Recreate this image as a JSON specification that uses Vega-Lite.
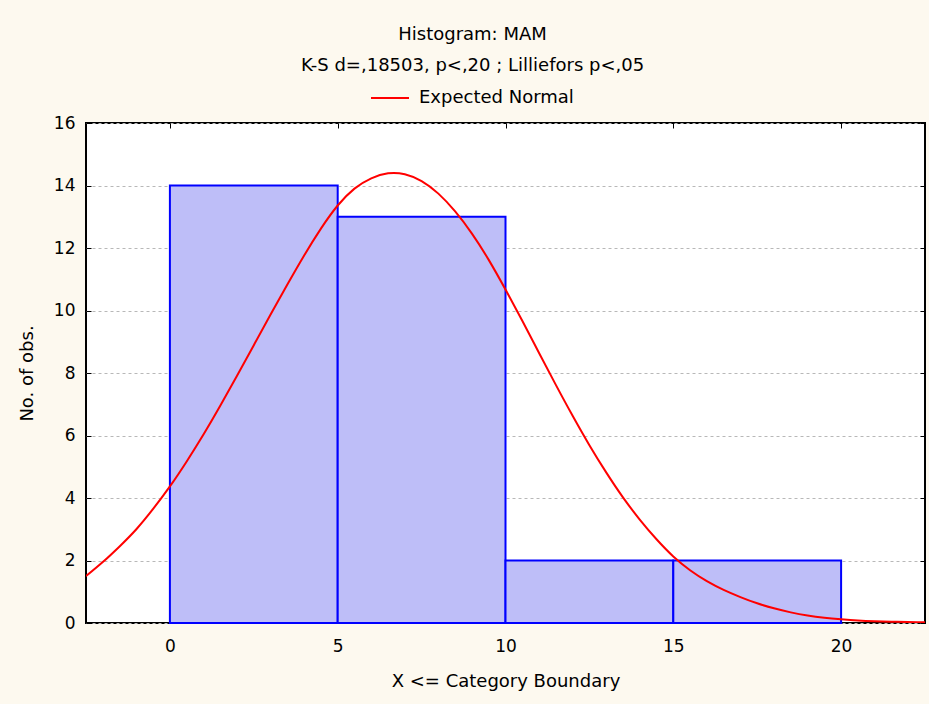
{
  "$schema": "https://vega.github.io/schema/vega-lite/v6.json",
  "width": 839,
  "height": 500,
  "autosize": "none",
  "padding": {"left": 86, "top": 123, "right": 4, "bottom": 81},
  "background": "#FDF9EF",
  "config": {
    "font": "DejaVu Sans",
    "view": {"fill": "#FFFFFF", "stroke": "#000000", "strokeWidth": 2},
    "axis": {"labelFontSize": 17, "titleFontSize": 18, "labelColor": "#000000", "titleColor": "#000000", "titleFontWeight": "normal", "labelFont": "DejaVu Sans", "titleFont": "DejaVu Sans"}
  },
  "title": {
    "text": "Histogram: MAM",
    "subtitle": "K-S d=,18503, p<,20 ; Lilliefors p<,05",
    "anchor": "middle",
    "dx": -33,
    "offset": 3,
    "fontSize": 18,
    "fontWeight": "normal",
    "subtitleFontSize": 18,
    "subtitlePadding": 13,
    "color": "#000000",
    "subtitleColor": "#000000",
    "font": "DejaVu Sans",
    "subtitleFont": "DejaVu Sans"
  },
  "datasets": {
    "bins": [
      {"start": 0, "end": 5, "count": 14},
      {"start": 5, "end": 10, "count": 13},
      {"start": 10, "end": 15, "count": 2},
      {"start": 15, "end": 20, "count": 2}
    ],
    "curve": [
      {"x": -2.5, "y": 1.5}, {"x": -2, "y": 1.95}, {"x": -1.5, "y": 2.45}, {"x": -1, "y": 3.0},
      {"x": -0.5, "y": 3.65}, {"x": 0, "y": 4.37}, {"x": 0.5, "y": 5.17}, {"x": 1, "y": 6.03},
      {"x": 1.5, "y": 6.95}, {"x": 2, "y": 7.91}, {"x": 2.5, "y": 8.89}, {"x": 3, "y": 9.87},
      {"x": 3.5, "y": 10.83}, {"x": 4, "y": 11.76}, {"x": 4.5, "y": 12.62}, {"x": 5, "y": 13.36},
      {"x": 5.5, "y": 13.9}, {"x": 6, "y": 14.23}, {"x": 6.5, "y": 14.39}, {"x": 7, "y": 14.36},
      {"x": 7.5, "y": 14.14}, {"x": 8, "y": 13.74}, {"x": 8.5, "y": 13.17}, {"x": 9, "y": 12.46},
      {"x": 9.5, "y": 11.62}, {"x": 10, "y": 10.67}, {"x": 10.5, "y": 9.67}, {"x": 11, "y": 8.64},
      {"x": 11.5, "y": 7.62}, {"x": 12, "y": 6.63}, {"x": 12.5, "y": 5.69}, {"x": 13, "y": 4.82},
      {"x": 13.5, "y": 4.02}, {"x": 14, "y": 3.31}, {"x": 14.5, "y": 2.68}, {"x": 15, "y": 2.13},
      {"x": 15.5, "y": 1.69}, {"x": 16, "y": 1.34}, {"x": 16.5, "y": 1.06}, {"x": 17, "y": 0.83},
      {"x": 17.5, "y": 0.63}, {"x": 18, "y": 0.47}, {"x": 18.5, "y": 0.34}, {"x": 19, "y": 0.24},
      {"x": 19.5, "y": 0.17}, {"x": 20, "y": 0.12}, {"x": 20.5, "y": 0.08}, {"x": 21, "y": 0.055},
      {"x": 21.5, "y": 0.04}, {"x": 22, "y": 0.03}, {"x": 22.5, "y": 0.02}
    ]
  },
  "layer": [
    {
      "data": {"name": "bins"},
      "mark": {"type": "bar", "fill": "#BEBEF8", "stroke": "#0000FF", "strokeWidth": 2},
      "encoding": {
        "x": {
          "field": "start", "type": "quantitative",
          "scale": {"domain": [-2.5, 22.5], "nice": false, "zero": false},
          "axis": {"title": "X <= Category Boundary", "values": [0, 5, 10, 15, 20], "grid": false, "domain": false, "tickSize": -5, "tickColor": "#000000", "labelPadding": 20, "titlePadding": 18}
        },
        "x2": {"field": "end"},
        "y": {
          "field": "count", "type": "quantitative",
          "scale": {"domain": [0, 16], "nice": false},
          "axis": {"title": "No. of obs.", "values": [0, 2, 4, 6, 8, 10, 12, 14, 16], "grid": true, "gridColor": "#B8B8B8", "gridDash": [3, 3], "gridWidth": 1, "domain": false, "tickSize": -5, "tickColor": "#000000", "labelPadding": 16, "titlePadding": 17}
        },
        "y2": {"datum": 0}
      }
    },
    {
      "data": {"name": "curve"},
      "mark": {"type": "line", "strokeWidth": 2, "interpolate": "natural", "clip": true},
      "encoding": {
        "x": {"field": "x", "type": "quantitative",
          "axis": {"orient": "top", "values": [0, 5, 10, 15, 20], "labels": false, "title": null, "grid": false, "domain": false, "tickSize": -5, "tickColor": "#000000"}},
        "y": {"field": "y", "type": "quantitative",
          "axis": {"orient": "right", "values": [0, 2, 4, 6, 8, 10, 12, 14, 16], "labels": false, "title": null, "grid": false, "domain": false, "tickSize": -5, "tickColor": "#000000"}},
        "color": {
          "datum": "Expected Normal",
          "scale": {"range": ["#FF0000"]},
          "legend": {"title": null, "orient": "none", "legendX": 284, "legendY": -45, "symbolType": "stroke", "symbolSize": 1444, "symbolStrokeWidth": 2, "labelFontSize": 18, "labelFont": "DejaVu Sans", "labelColor": "#000000", "labelOffset": 9, "padding": 0}
        }
      }
    }
  ],
  "resolve": {"axis": {"x": "independent", "y": "independent"}}
}
